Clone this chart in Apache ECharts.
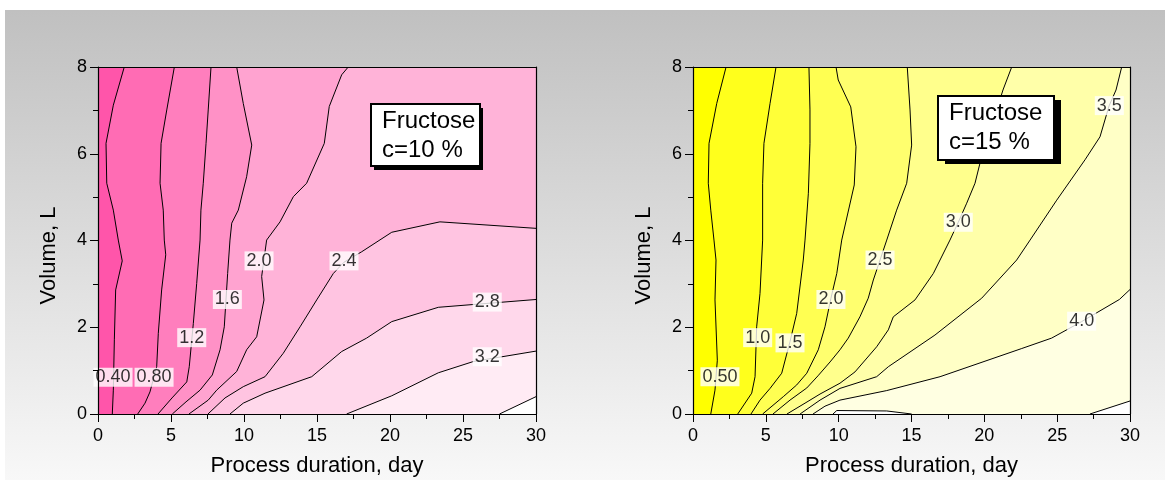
<!DOCTYPE html>
<html>
<head>
<meta charset="utf-8">
<script src="https://cdn.jsdelivr.net/npm/echarts@6.0.0/dist/echarts.min.js"></script>
<style>
  html, body { margin: 0; padding: 0; background: #fff; }
  #contour { width: 1165px; height: 480px; }
</style>
</head>
<body>
<div id="contour"></div>
<script>
// 左图 c=10 %  等值线 (x: 天, y: L)
const c10_040 = [[1.80,8],[1.05,7.12],[0.55,6.24],[0.60,5.32],[1.05,4.70],[1.39,4.01],[1.66,3.53],[1.21,2.86],[1.12,1.71],[1.05,0.55],[0.98,0]]
const c10_080 = [[5.23,8],[4.71,7.01],[4.32,6.24],[4.25,5.32],[4.47,4.70],[4.54,4.01],[4.64,3.67],[4.36,2.86],[4.13,1.86],[4.02,1.09],[3.56,0.51],[3.22,0.25],[2.72,0]]
const c10_120 = [[7.74,8],[7.55,7.01],[7.40,6.24],[7.21,5.32],[7.05,4.70],[6.99,4.01],[6.76,3.01],[6.53,2.09],[6.25,1.09],[6.08,0.74],[5.07,0.37],[4.11,0]]
const c10_160 = [[9.50,8],[9.95,7.16],[10.53,6.20],[10.18,5.47],[9.61,4.70],[9.16,4.40],[9.04,4.01],[8.88,3.24],[8.65,2.01],[8.36,1.48],[7.83,0.90],[6.99,0.55],[6.03,0.28],[5.09,0]]
const c10_200 = [[17.14,8],[16.69,7.82],[15.84,7.09],[15.50,6.24],[14.29,5.32],[13.38,5.01],[12.47,4.43],[11.55,4.01],[11.21,3.17],[11.37,2.63],[10.87,1.78],[10.18,1.48],[9.50,0.98],[8.13,0.55],[7.55,0.32],[6.23,0]]
const c10_240 = [[30,4.28],[23.42,4.43],[20.12,4.19],[18.06,3.74],[16.85,3.50],[16.12,3.24],[14.98,2.63],[13.84,2.01],[12.69,1.40],[11.44,0.86],[9.95,0.63],[8.70,0.37],[7.53,0]]
const c10_280 = [[30,2.64],[23.31,2.46],[20.12,2.13],[18.40,1.75],[16.69,1.44],[14.64,0.86],[11.44,0.48],[9.95,0.25],[9.04,0]]
const c10_320 = [[30,1.45],[25.71,1.21],[23.31,0.95],[20.12,0.42],[17.03,0]]
const c10_360 = [[30,0.40],[27.50,0]]
const lines10 = [c10_040, c10_080, c10_120, c10_160, c10_200, c10_240, c10_280, c10_320, c10_360]
const colors10 = ['#ff55aa', '#ff6cb4', '#ff7ebd', '#ff91c6', '#ffa3d0', '#ffb3d8', '#ffc4e1', '#ffd8eb', '#ffebf4', '#ffffff']
const labels10 = [[1.03,0.85,'0.40'],[3.84,0.85,'0.80'],[6.42,1.76,'1.2'],[8.86,2.64,'1.6'],[11.03,3.53,'2.0'],[16.85,3.53,'2.4'],[26.66,2.58,'2.8'],[26.66,1.32,'3.2']]

// 右图 c=15 %
const c15_050 = [[2.27,8],[1.63,7.16],[1.10,6.24],[1.05,5.32],[1.22,4.70],[1.44,4.01],[1.58,3.55],[1.51,2.63],[1.67,1.24],[1.51,0.55],[1.22,0]]
const c15_100 = [[5.70,8],[5.29,7.16],[4.87,6.24],[4.78,5.32],[4.78,4.01],[4.60,2.78],[4.37,2.01],[4.26,0.86],[4.03,0.48],[3.07,0]]
const c15_150 = [[7.96,8],[8.03,7.01],[8.03,6.24],[7.92,5.09],[7.69,4.01],[7.57,3.55],[7.12,2.32],[6.66,1.67],[6.09,0.94],[5.29,0.59],[4.60,0.32],[3.98,0]]
const c15_200 = [[9.82,8],[9.97,7.70],[10.83,7.08],[11.19,6.16],[11.07,5.28],[10.21,4.01],[9.87,3.24],[9.47,2.67],[9.06,2.01],[8.60,1.48],[7.81,0.94],[7.12,0.67],[6.20,0.40],[4.78,0]]
const c15_250 = [[14.71,8],[14.90,7.01],[15.01,6.20],[14.67,5.32],[13.98,4.70],[13.30,4.01],[12.84,3.55],[12.38,3.09],[12.03,2.67],[11.46,2.24],[10.66,1.75],[10.09,1.48],[9.41,1.20],[8.58,0.88],[7.81,0.60],[6.66,0.32],[5.49,0]]
const c15_300 = [[21.88,8],[21.28,7.47],[20.85,7.01],[20.05,6.28],[19.70,5.78],[19.36,5.32],[18.79,4.86],[18.21,4.42],[17.64,4.01],[16.50,3.24],[15.24,2.63],[13.75,2.24],[13.41,1.94],[12.61,1.55],[11.12,0.97],[10.09,0.71],[8.72,0.46],[7.69,0.25],[6.45,0]]
const c15_350 = [[29.43,8],[29.04,7.47],[28.56,7.10],[27.94,6.39],[26.91,5.86],[24.97,4.93],[23.14,4.01],[22.22,3.55],[19.82,2.67],[16.61,1.82],[13.41,1.09],[12.61,0.86],[10.09,0.59],[8.72,0.32],[7.35,0]]
const c15_400 = [[30,2.87],[29.27,2.64],[26.68,2.13],[24.62,1.75],[22.57,1.51],[16.96,0.86],[13.30,0.54],[10.09,0.32],[9.06,0.18],[8.24,0]]
const c15_450a = [[9.61,0],[9.87,0.08],[13.30,0.07],[15.01,0]]
const c15_450b = [[27.25,0],[30,0.30]]
const lines15 = [c15_050, c15_100, c15_150, c15_200, c15_250, c15_300, c15_350, c15_400, c15_450a, c15_450b]
const colors15 = ['#ffff00', '#ffff1c', '#ffff38', '#ffff52', '#ffff6e', '#ffff8c', '#ffffa9', '#ffffc6', '#ffffe2', '#ffffff', '#ffffff']
const labels15 = [[1.85,0.86,'0.50'],[4.44,1.76,'1.0'],[6.66,1.64,'1.5'],[9.47,2.64,'2.0'],[12.84,3.55,'2.5'],[18.21,4.42,'3.0'],[28.58,7.11,'3.5'],[26.68,2.14,'4.0']]

const xTicks = [0, 30, 5]
const yTicks = [0, 8, 2]
const FONT = 'Liberation Sans, Arial, sans-serif'

// 等值线高值一侧闭合成多边形
function closeHigh (pts) {
  let a = pts[0]
  let b = pts[pts.length - 1]
  let out = pts.slice()
  if (a[1] === yTicks[1] && b[1] === 0) {
    out.push([xTicks[1], 0], [xTicks[1], yTicks[1]])
  } else if ((a[0] === xTicks[1] && b[1] === 0) || (a[1] === 0 && b[0] === xTicks[1])) {
    out.push([xTicks[1], 0])
  }
  return out
}

function fillSeries (gi, lines, colors) {
  let polys = [[[0, 0], [xTicks[1], 0], [xTicks[1], yTicks[1]], [0, yTicks[1]]]]
  lines.forEach(function (l) { polys.push(closeHigh(l)) })
  return {
    type: 'custom',
    xAxisIndex: gi,
    yAxisIndex: gi,
    silent: true,
    clip: true,
    z: 1,
    data: polys.map(function (p) { return p[0] }),
    renderItem: function (params, api) {
      let p = polys[params.dataIndex]
      return {
        type: 'polygon',
        shape: { points: p.map(function (q) { return api.coord(q) }) },
        style: { fill: colors[params.dataIndex], stroke: null }
      }
    }
  }
}

function lineSeries (gi, pts) {
  return {
    type: 'line',
    xAxisIndex: gi,
    yAxisIndex: gi,
    data: pts,
    symbol: 'none',
    silent: true,
    z: 3,
    lineStyle: { color: '#000', width: 1 }
  }
}

function labelSeries (gi, labels) {
  return {
    type: 'scatter',
    xAxisIndex: gi,
    yAxisIndex: gi,
    symbolSize: 0,
    silent: true,
    z: 4,
    data: labels.map(function (l) { return { value: [l[0], l[1]], name: l[2] } }),
    label: {
      show: true,
      position: 'inside',
      formatter: '{b}',
      color: '#000',
      fontSize: 18,
      fontFamily: FONT,
      backgroundColor: '#fff',
      padding: [1, 2, 0, 2]
    }
  }
}

function mainX (gi) {
  return {
    gridIndex: gi,
    type: 'value',
    position: 'bottom',
    min: xTicks[0],
    max: xTicks[1],
    interval: xTicks[2],
    z: 10,
    name: 'Process duration, day',
    nameLocation: 'middle',
    nameGap: 41,
    nameTextStyle: { fontSize: 22, color: '#000', fontFamily: FONT },
    axisLine: { show: true, onZero: false, lineStyle: { color: '#000', width: 1.2 } },
    axisTick: { show: true, inside: false, length: 8, lineStyle: { color: '#000' } },
    minorTick: { show: true, splitNumber: 2, length: 5, lineStyle: { color: '#000' } },
    axisLabel: { fontSize: 18, color: '#000', margin: 13, fontFamily: FONT },
    splitLine: { show: false },
    minorSplitLine: { show: false }
  }
}

function mainY (gi) {
  return {
    gridIndex: gi,
    type: 'value',
    position: 'left',
    min: yTicks[0],
    max: yTicks[1],
    interval: yTicks[2],
    z: 10,
    name: 'Volume, L',
    nameLocation: 'middle',
    nameRotate: 90,
    nameGap: 38,
    nameTextStyle: { fontSize: 22, color: '#000', fontFamily: FONT, padding: [0, 30, 0, 0] },
    axisLine: { show: true, onZero: false, lineStyle: { color: '#000', width: 1.2 } },
    axisTick: { show: true, inside: false, length: 8, lineStyle: { color: '#000' } },
    minorTick: { show: true, splitNumber: 2, length: 5, lineStyle: { color: '#000' } },
    axisLabel: { fontSize: 18, color: '#000', margin: 11, fontFamily: FONT },
    splitLine: { show: false },
    minorSplitLine: { show: false }
  }
}

// 上、右边框
function frameAxis (gi, pos, ext) {
  return {
    gridIndex: gi,
    type: 'value',
    position: pos,
    min: 0,
    max: ext,
    z: 10,
    axisLine: { show: true, onZero: false, lineStyle: { color: '#000', width: 1.2 } },
    axisTick: { show: false },
    axisLabel: { show: false },
    splitLine: { show: false }
  }
}

function legendBox (x, y, w, h, dx, dy, text) {
  return [
    { type: 'rect', z: 100, silent: true, shape: { x: x + dx, y: y + dy, width: w, height: h }, style: { fill: '#000' } },
    { type: 'rect', z: 101, silent: true, shape: { x: x, y: y, width: w, height: h }, style: { fill: '#fff', stroke: '#000', lineWidth: 2 } },
    { type: 'text', z: 102, silent: true, x: x + 11, y: y + 3, style: { text: text, fontSize: 24, lineHeight: 29, fontFamily: FONT, fill: '#000', verticalAlign: 'top' } }
  ]
}

let myChart = echarts.init(document.getElementById('contour'), null, { renderer: 'canvas' })

let series = [fillSeries(0, lines10, colors10), fillSeries(1, lines15, colors15)]
lines10.forEach(function (l) { series.push(lineSeries(0, l)) })
lines15.forEach(function (l) { series.push(lineSeries(1, l)) })
series.push(labelSeries(0, labels10))
series.push(labelSeries(1, labels15))

let option = {
  animation: false,
  backgroundColor: '#fff',
  grid: [
    { left: 98, top: 67, width: 438, height: 347, outerBoundsMode: 'none' },
    { left: 693, top: 67, width: 437, height: 347, outerBoundsMode: 'none' }
  ],
  xAxis: [mainX(0), mainX(1), frameAxis(0, 'top', xTicks[1]), frameAxis(1, 'top', xTicks[1])],
  yAxis: [mainY(0), mainY(1), frameAxis(0, 'right', yTicks[1]), frameAxis(1, 'right', yTicks[1])],
  graphic: [
    {
      type: 'rect', z: -10, silent: true,
      shape: { x: 5, y: 10, width: 1160, height: 470 },
      style: {
        fill: new echarts.graphic.LinearGradient(0, 0, 0, 1, [
          { offset: 0, color: '#c0c0c0' },
          { offset: 1, color: '#f8f8f8' }
        ])
      }
    }
  ].concat(legendBox(371, 104, 109, 62, 3, 4, 'Fructose\nc=10 %'))
    .concat(legendBox(938, 96, 116, 64, 7, 4, 'Fructose\nc=15 %')),
  series: series
}
myChart.setOption(option)
</script>
</body>
</html>
